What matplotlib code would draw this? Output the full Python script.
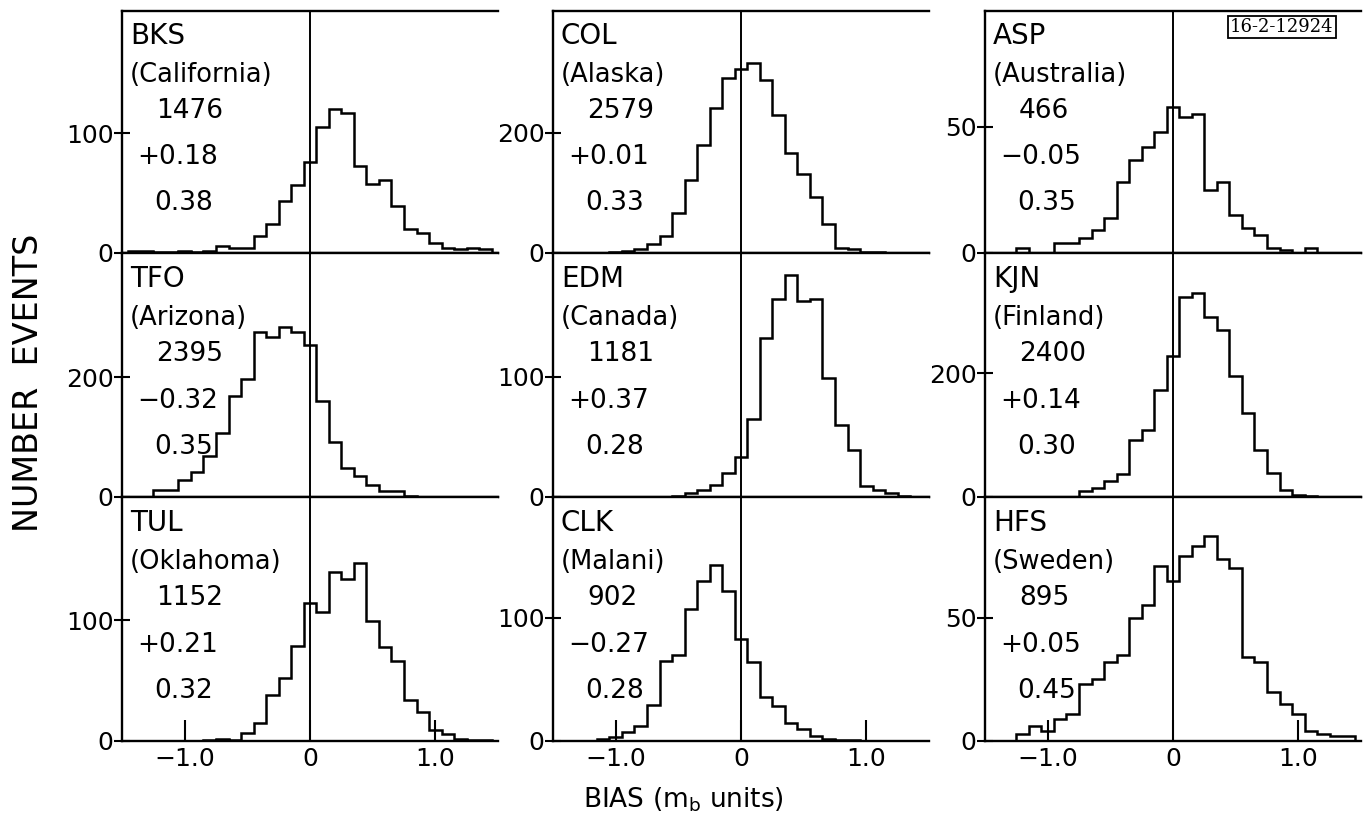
import matplotlib
matplotlib.use("Agg")
import matplotlib.pyplot as plt
import numpy as np

plt.rcParams['font.family'] = ['DejaVu Sans']

# ---- data -------------------------------------------------------------
bin_centers = [-1.4, -1.3, -1.2, -1.1, -1.0, -0.9, -0.8, -0.7, -0.6, -0.5,
               -0.4, -0.3, -0.2, -0.1, 0.0, 0.1, 0.2, 0.3, 0.4, 0.5,
               0.6, 0.7, 0.8, 0.9, 1.0, 1.1, 1.2, 1.3, 1.4]
bin_width = 0.1

stations = ["BKS", "COL", "ASP", "TFO", "EDM", "KJN", "TUL", "CLK", "HFS"]
regions = ["(California)", "(Alaska)", "(Australia)",
           "(Arizona)", "(Canada)", "(Finland)",
           "(Oklahoma)", "(Malani)", "(Sweden)"]
n_events = ["1476", "2579", "466", "2395", "1181", "2400", "1152", "902", "895"]
mean_bias = ["+0.18", "+0.01", "\u22120.05", "\u22120.32", "+0.37", "+0.14",
             "+0.21", "\u22120.27", "+0.05"]
sigma_bias = ["0.38", "0.33", "0.35", "0.35", "0.28", "0.30", "0.32", "0.28", "0.45"]

bks = [2, 2, 1, 1, 2, 1, 2, 6, 4, 4, 14, 24, 43, 57, 76, 105, 120, 117, 73, 58,
       61, 39, 20, 17, 8, 4, 3, 4, 3]
col = [0, 0, 0, 0, 1, 4, 7, 15, 29, 67, 121, 180, 241, 291, 307, 316, 288, 230, 167, 132,
       93, 48, 9, 6, 2, 1, 0, 0, 0]
asp = [0, 0, 2, 0, 0, 4, 4, 6, 9, 14, 28, 37, 42, 48, 58, 54, 55, 25, 28, 15,
       10, 7, 2, 1, 0, 2, 0, 0, 0]
tfo = [0, 0, 11, 11, 29, 42, 69, 107, 169, 197, 275, 267, 283, 275, 253, 160, 91, 49, 35, 20,
       10, 10, 1, 0, 0, 0, 0, 0, 0]
edm = [0, 0, 0, 0, 0, 0, 0, 0, 0, 1, 3, 6, 10, 20, 33, 65, 132, 165, 185, 163,
       165, 99, 60, 39, 9, 6, 3, 1, 0]
kjn = [0, 0, 0, 0, 0, 0, 0, 10, 15, 26, 37, 92, 108, 172, 227, 323, 330, 291, 270, 196,
       135, 76, 39, 11, 4, 1, 0, 0, 0]
tul = [0, 0, 0, 0, 0, 0, 1, 2, 1, 7, 15, 38, 52, 79, 114, 107, 140, 134, 147, 99,
       78, 66, 34, 24, 9, 6, 2, 1, 1]
clk = [0, 0, 0, 2, 3, 7, 12, 29, 65, 70, 107, 130, 143, 122, 83, 64, 36, 28, 15, 10,
       4, 2, 1, 1, 0, 0, 0, 0, 0]
hfs = [0, 0, 3, 6, 4, 9, 11, 23, 25, 32, 35, 50, 55, 71, 65, 75, 79, 83, 74, 70,
       34, 32, 20, 15, 11, 4, 3, 2, 2]
counts = [bks, col, asp, tfo, edm, kjn, tul, clk, hfs]

y_tick_value = [100, 200, 50, 200, 100, 200, 100, 100, 50]
y_top = [202, 403, 96, 407, 203, 394, 202, 198, 99]

x_ticks = [-1.0, 0.0, 1.0]
x_tick_labels = ["\u22121.0", "0", "1.0"]

# ---- layout -------------------------------------------------------------
W, H = 1367, 831
fig = plt.figure(figsize=(W / 100, H / 100), dpi=100)

col_left = [122, 553, 985]
col_width = 376
row_top = [11, 253, 497]
row_bottom = [253, 497, 741]

edges = np.array([c - bin_width / 2 for c in bin_centers] + [bin_centers[-1] + bin_width / 2])

text_y = [0.895, 0.735, 0.585, 0.395, 0.205]
text_x_px = [8, 8, 34, 15, 32]
text_sizes = [20, 18.5, 19, 19, 19]

for i in range(9):
    r, c = divmod(i, 3)
    left = col_left[c] / W
    bottom = 1 - row_bottom[r] / H
    height = (row_bottom[r] - row_top[r]) / H
    ax = fig.add_axes([left, bottom, col_width / W, height])
    ax.stairs(counts[i], edges, color='black', lw=1.8, baseline=0)
    ax.axvline(0, color='black', lw=1.4)
    ax.set_xlim(-1.5, 1.5)
    ax.set_ylim(0, y_top[i])
    for s in ['left', 'bottom', 'top']:
        ax.spines[s].set_linewidth(1.7)
    ax.spines['right'].set_visible(False)

    ax.set_yticks([0, y_tick_value[i]])
    ax.set_yticklabels(["0", str(y_tick_value[i])])
    ax.tick_params(axis='y', direction='inout', length=12, width=1.5,
                   labelsize=18, pad=0)
    if r == 2:
        ax.set_xticks(x_ticks)
        ax.set_xticklabels(x_tick_labels)
        ax.tick_params(axis='x', direction='in', length=15, width=1.5,
                       labelsize=18, pad=4)
    else:
        ax.set_xticks([])

    strings = [stations[i], regions[i], n_events[i], mean_bias[i], sigma_bias[i]]
    for s, ty, tx, fs in zip(strings, text_y, text_x_px, text_sizes):
        ax.text(tx / col_width, ty, s, transform=ax.transAxes,
                fontsize=fs, ha='left', va='center', color='black')

fig.text(29 / W, 1 - 383 / H, "NUMBER  EVENTS", rotation=90, fontsize=24,
         ha='center', va='center')
fig.text(683 / W, 1 - 800 / H, "BIAS (m$_\\mathregular{b}$ units)", fontsize=19,
         ha='center', va='center')
fig.text(1282 / W, 1 - 27 / H, "16-2-12924", fontsize=13, family='DejaVu Serif',
         ha='center', va='center',
         bbox=dict(boxstyle='square,pad=0.1', fc='white', ec='black', lw=1.3))

fig.savefig("out.png", dpi=100, facecolor='white')
